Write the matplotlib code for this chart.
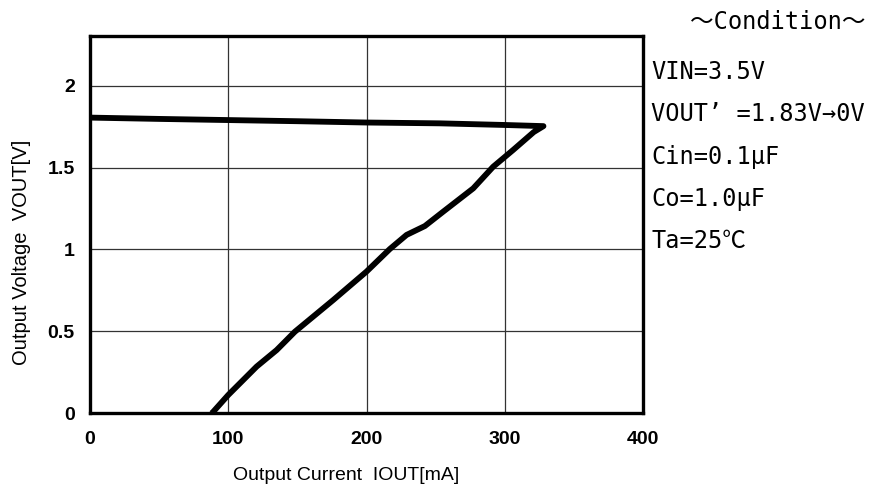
import matplotlib
import matplotlib.pyplot as plt
import numpy as np

# Output current [mA] / output voltage [V], traced as one foldback loop:
# upper branch while the load increases, lower branch as VOUT' falls to 0 V
iout_up = [0, 50, 100, 150, 200, 253, 300, 328]
vout_up = [1.805, 1.797, 1.79, 1.783, 1.775, 1.77, 1.76, 1.753]
iout_down = [321, 306, 291.6, 277.2, 255.5, 242.2, 229, 216.9, 200, 176,
             148.2, 135, 120.5, 100, 89.2, 88]
vout_down = [1.717, 1.607, 1.505, 1.373, 1.231, 1.143, 1.089, 1.003, 0.865, 0.692,
             0.498, 0.386, 0.285, 0.112, 0.01, 0.0]

x_ticks = [0, 100, 200, 300, 400]
y_ticks = [0, 0.5, 1, 1.5, 2]
y_ticklabels = ["0", "0.5", "1", "1.5", "2"]

conditions = ["VIN=3.5V", "VOUT’ =1.83V→0V", "Cin=0.1μF", "Co=1.0μF", "Ta=25℃"]

sans = ["Liberation Sans Narrow", "Liberation Sans", "DejaVu Sans"]
mono = ["DejaVu Sans Mono", "Noto Sans CJK JP", "DejaVu Sans"]

fig = plt.figure(figsize=(8.88, 4.97), dpi=100)
ax = fig.add_axes([90 / 888, 1 - 413.3 / 497, 553 / 888, 377.6 / 497])

curve_x = np.array(iout_up + iout_down)
curve_y = np.array(vout_up + vout_down)
ax.plot(curve_x, curve_y, color="black", lw=4.2, solid_joinstyle="round",
        solid_capstyle="butt", zorder=3)

ax.set_xlim(0, 400)
ax.set_ylim(0, 2.305)
ax.set_xticks(x_ticks)
ax.set_yticks(y_ticks)
ax.set_yticklabels(y_ticklabels)
ax.tick_params(length=0, labelsize=14)
ax.tick_params(axis="x", pad=13)
ax.tick_params(axis="y", pad=11)
for lbl in ax.get_xticklabels() + ax.get_yticklabels():
    lbl.set_family(sans)
    lbl.set_fontweight("bold")

ax.grid(True, color="#333333", lw=0.9)
for where in ["top", "right", "bottom", "left"]:
    ax.spines[where].set_linewidth(2.4)
ax.set_axisbelow(True)

fig.text(346 / 888, 1 - 476 / 497, "Output Current  IOUT[mA]", ha="center", va="center",
         fontsize=14, family=sans)
fig.text(22 / 888, 1 - 252 / 497, "Output Voltage  VOUT[V]", ha="center", va="center",
         rotation=90, fontsize=14.5, family=sans)

fig.text(778 / 888, 1 - 22 / 497, "～Condition～", ha="center", va="center",
         fontsize=17, family=mono)
for i, line in enumerate(conditions):
    fig.text(651 / 888, 1 - (72 + 42.3 * i) / 497, line, ha="left", va="center",
             fontsize=17, family=mono)

plt.savefig("out.png", dpi=100)
